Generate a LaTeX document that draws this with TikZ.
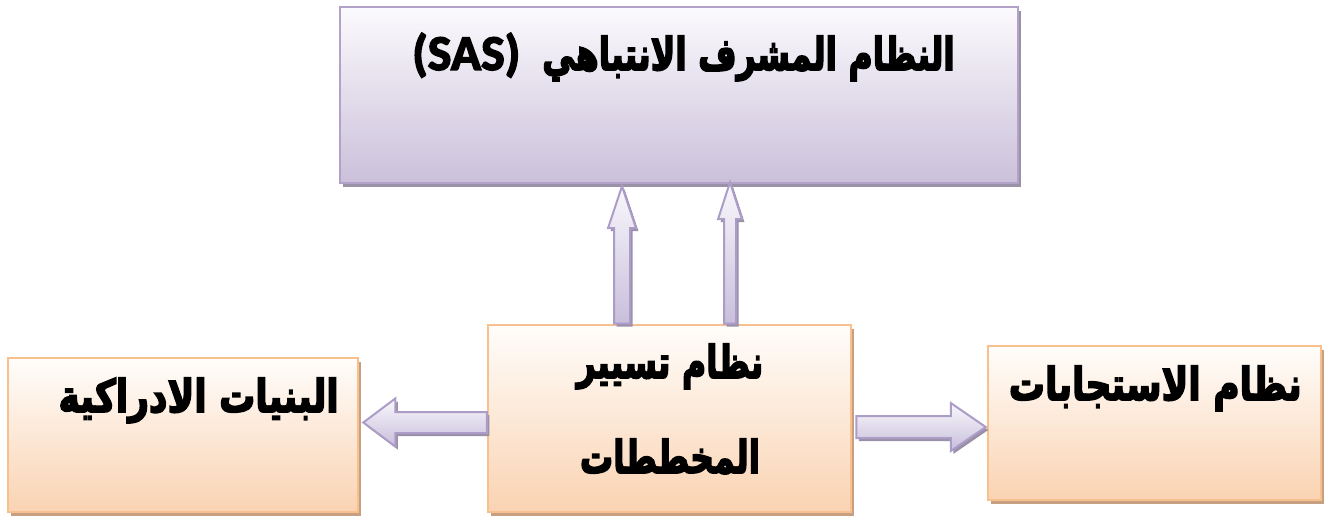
\documentclass[tikz,border=0pt]{standalone}
\usepackage{fontspec}
\usetikzlibrary{calc,shadows}
\TeXXeTstate=1
\newfontfamily\arabicfont[Script=Arabic, BoldFeatures={FakeBold=4}]{DejaVu Sans}
\newfontfamily\latinbold[FakeBold=3]{Carlito Bold}
\newcommand\artext[2][1]{\scalebox{#1}[1.25]{\beginR #2\endR}}
\definecolor{purpline}{HTML}{B3A2C7}
\definecolor{purpbot}{HTML}{CBC0DA}
\definecolor{purptop}{HTML}{FBFAFD}
\definecolor{purpshadow}{HTML}{9C92A8}
\definecolor{orline}{HTML}{F9C08F}
\definecolor{orbot}{HTML}{FAD3B2}
\definecolor{ortop}{HTML}{FFFDFB}
\definecolor{orshadow}{HTML}{C6A081}
\definecolor{arline}{HTML}{AC9CC8}
\definecolor{artop}{HTML}{F9F8FC}
\definecolor{arbot}{HTML}{C8BEDB}
\definecolor{arshadow}{HTML}{9A90A8}
\tikzset{
  blockarrow/.style n args={3}{to path={
    let \p1=(\tikztostart), \p2=(\tikztotarget), \p3=($(\p2)!#3!(\p1)$) in
    ($(\p1)!#1!90:(\p2)$) -- ($(\p3)!#1!90:(\p2)$) -- ($(\p3)!#2!90:(\p2)$) -- (\p2)
    -- ($(\p3)!#2!-90:(\p2)$) -- ($(\p3)!#1!-90:(\p2)$) -- ($(\p1)!#1!-90:(\p2)$) -- cycle
  }},
  purplebox/.style={rectangle, draw=purpline, line width=2.5pt, top color=purptop, bottom color=purpbot,
    drop shadow={shadow xshift=3pt, shadow yshift=-4pt, fill=purpshadow, opacity=1}, inner sep=0pt},
  orangebox/.style={rectangle, draw=orline, line width=2.5pt, top color=ortop, bottom color=orbot,
    drop shadow={shadow xshift=3pt, shadow yshift=-4pt, fill=orshadow, opacity=1}, inner sep=0pt},
  arrowbody/.style={draw=arline, line width=2pt, line join=miter, top color=artop, bottom color=arbot,
    drop shadow={shadow xshift=2.5pt, shadow yshift=-3pt, fill=arshadow, opacity=1}},
  lbl/.style={font=\arabicfont\bfseries\fontsize{36}{40}\selectfont, inner sep=0pt, text=black},
}
\begin{document}
\begin{tikzpicture}[x=1pt,y=1pt]
\useasboundingbox (0,0) rectangle (1325,517);
% boxes
\node[purplebox, minimum width=678pt, minimum height=176pt] (top) at (679,422) {};
\node[orangebox, minimum width=350pt, minimum height=154pt] (left) at (183,82) {};
\node[orangebox, minimum width=363pt, minimum height=187pt] (mid) at (669.5,98.5) {};
\node[orangebox, minimum width=333pt, minimum height=154pt] (right) at (1154.5,94) {};
% arrows
\draw[arrowbody] ([xshift=-47.5pt]mid.north) to[blockarrow={8pt}{14pt}{42pt}] ([xshift=-57pt,yshift=-2pt]top.south);
\draw[arrowbody] ([xshift=60.5pt]mid.north) to[blockarrow={6pt}{12pt}{37pt}] ([xshift=51pt,yshift=2pt]top.south);
\draw[arrowbody] ([yshift=-4pt]mid.west) to[blockarrow={10.5pt}{24pt}{32pt}] ([xshift=4pt,yshift=12.5pt]left.east);
\draw[arrowbody] ([xshift=4pt,yshift=-8.5pt]mid.east) to[blockarrow={11pt}{24pt}{35pt}] ([xshift=-1pt,yshift=-4pt]right.west);
% labels
\node[lbl, anchor=base east] (ttop) at (955,447) {{\latinbold\fontsize{50}{54}\selectfont (SAS)}\hspace{22pt}\artext[0.92]{النظام المشرف الانتباهي}};
\node[lbl, anchor=base east] (tleft) at (339,105) {\artext{البنيات الادراكية}};
\node[lbl, anchor=base east] (tright) at (1302,117) {\artext{نظام الاستجابات}};
\node[lbl, anchor=base] (tmid1) at (670,139) {\artext[0.92]{نظام تسيير}};
\node[lbl, anchor=base] (tmid2) at (670,44) {\artext[0.92]{المخططات}};
\end{tikzpicture}
\end{document}
